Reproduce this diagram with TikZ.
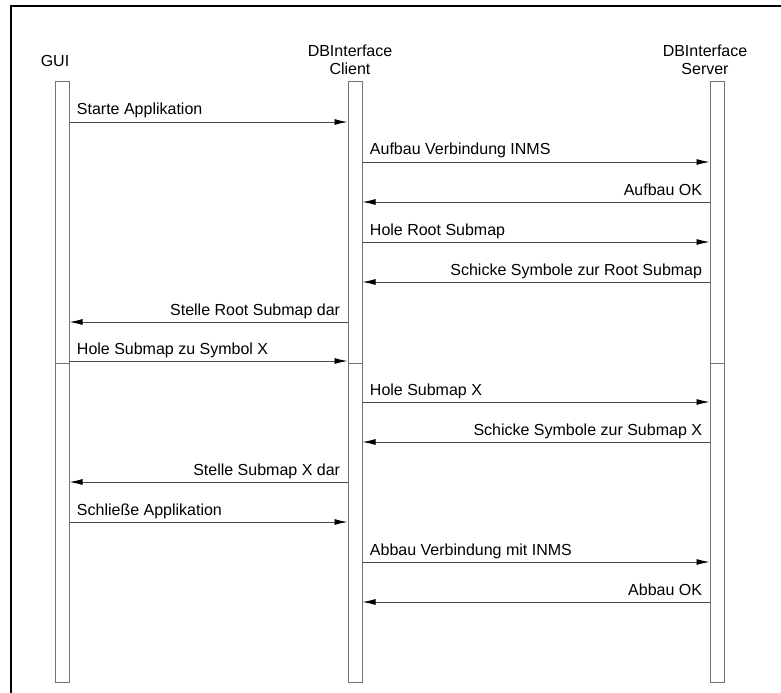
\documentclass[tikz,border=0pt]{standalone}
\usepackage{fontspec}
\setmainfont{Liberation Sans}
\usetikzlibrary{arrows.meta}

\begin{document}
\begin{tikzpicture}[x=1bp,y=-1bp,
  actbox/.style={draw=black!55, line width=1bp, fill=white,
    minimum width=14bp, inner sep=0pt},
  msg/.style={draw=black!70, line width=0.9bp,
    -{Latex[length=13bp,width=6bp,color=black]}},
  txt/.style={font=\fontsize{16bp}{18bp}\selectfont, inner sep=0pt},
  head/.style={txt, align=center},
  lblR/.style={txt, pos=0, anchor=base west, xshift=7bp, yshift=7bp},
  lblL/.style={txt, pos=0, anchor=base east, xshift=-7bp, yshift=7bp}]
\useasboundingbox (0,0) rectangle (781,693);

% frame
\draw[line width=2bp] (11,693) -- (11,6) -- (781,6);

% object headers (base = baseline of the last line)
\node[head, anchor=base] (hgui) at (55,67) {GUI};
\node[head, anchor=base] (hcli) at (350,75) {DBInterface\\Client};
\node[head, anchor=base] (hsrv) at (705,75) {DBInterface\\Server};

% activation boxes
\node[actbox, minimum height=281.5bp] (gui1) at (62,222.75) {};
\node[actbox, minimum height=318.5bp] (gui2) at (62,522.75) {};
\node[actbox, minimum height=281.5bp] (cli1) at (355,222.75) {};
\node[actbox, minimum height=318.5bp] (cli2) at (355,522.75) {};
\node[actbox, minimum height=281.5bp] (srv1) at (717,222.75) {};
\node[actbox, minimum height=318.5bp] (srv2) at (717,522.75) {};

% messages
\draw[msg] (gui1.east |- 0,122) -- node[lblR]{Starte Applikation} (cli1.west |- 0,122);
\draw[msg] (cli1.east |- 0,162) -- node[lblR]{Aufbau Verbindung INMS} (srv1.west |- 0,162);
\draw[msg] (srv1.west |- 0,202) -- node[lblL]{Aufbau OK} (cli1.east |- 0,202);
\draw[msg] (cli1.east |- 0,242) -- node[lblR]{Hole Root Submap} (srv1.west |- 0,242);
\draw[msg] (srv1.west |- 0,282) -- node[lblL]{Schicke Symbole zur Root Submap} (cli1.east |- 0,282);
\draw[msg] (cli1.west |- 0,322) -- node[lblL]{Stelle Root Submap dar} (gui1.east |- 0,322);
\draw[msg] (gui1.east |- 0,361) -- node[lblR]{Hole Submap zu Symbol X} (cli1.west |- 0,361);
\draw[msg] (cli2.east |- 0,402) -- node[lblR]{Hole Submap X} (srv2.west |- 0,402);
\draw[msg] (srv2.west |- 0,442) -- node[lblL]{Schicke Symbole zur Submap X} (cli2.east |- 0,442);
\draw[msg] (cli2.west |- 0,482) -- node[lblL]{Stelle Submap X dar} (gui2.east |- 0,482);
\draw[msg] (gui2.east |- 0,522) -- node[lblR]{Schließe Applikation} (cli2.west |- 0,522);
\draw[msg] (cli2.east |- 0,562) -- node[lblR]{Abbau Verbindung mit INMS} (srv2.west |- 0,562);
\draw[msg] (srv2.west |- 0,602) -- node[lblL]{Abbau OK} (cli2.east |- 0,602);
\end{tikzpicture}
\end{document}
